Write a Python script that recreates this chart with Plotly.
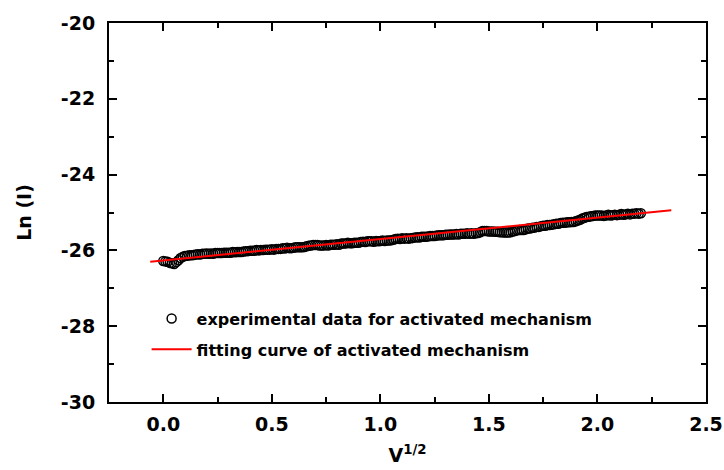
import plotly.graph_objects as go

# square root of bias voltage (x) for the measured points
sqrt_v = [round(0.01 * i, 2) for i in range(221)]

ln_i = [
    -26.28, -26.29, -26.30, -26.33, -26.34, -26.36, -26.31, -26.26, -26.20, -26.17,
    -26.15, -26.14, -26.13, -26.13, -26.12, -26.11, -26.10, -26.11, -26.09, -26.09,
    -26.08, -26.09, -26.08, -26.09, -26.07, -26.07, -26.07, -26.07, -26.06, -26.06,
    -26.06, -26.06, -26.04, -26.05, -26.04, -26.04, -26.04, -26.03, -26.02, -26.02,
    -26.01, -26.01, -26.01, -25.99, -26.00, -25.99, -25.99, -25.98, -25.98, -25.98,
    -25.97, -25.98, -25.96, -25.96, -25.96, -25.94, -25.95, -25.93, -25.94, -25.94,
    -25.93, -25.92, -25.92, -25.92, -25.92, -25.91, -25.89, -25.88, -25.87, -25.86,
    -25.86, -25.86, -25.87, -25.87, -25.87, -25.86, -25.87, -25.85, -25.85, -25.85,
    -25.84, -25.85, -25.82, -25.82, -25.82, -25.80, -25.81, -25.81, -25.80, -25.80,
    -25.80, -25.78, -25.77, -25.78, -25.76, -25.76, -25.76, -25.77, -25.75, -25.76,
    -25.75, -25.74, -25.75, -25.74, -25.74, -25.73, -25.72, -25.70, -25.69, -25.70,
    -25.68, -25.69, -25.68, -25.69, -25.68, -25.67, -25.66, -25.65, -25.66, -25.64,
    -25.64, -25.64, -25.63, -25.62, -25.62, -25.62, -25.61, -25.60, -25.60, -25.60,
    -25.59, -25.59, -25.58, -25.58, -25.58, -25.57, -25.58, -25.56, -25.56, -25.56,
    -25.55, -25.56, -25.55, -25.56, -25.55, -25.54, -25.52, -25.49, -25.49, -25.49,
    -25.50, -25.50, -25.50, -25.51, -25.51, -25.52, -25.52, -25.53, -25.53, -25.53,
    -25.52, -25.50, -25.49, -25.47, -25.46, -25.46, -25.46, -25.44, -25.42, -25.42,
    -25.40, -25.40, -25.38, -25.38, -25.36, -25.35, -25.35, -25.33, -25.33, -25.32,
    -25.31, -25.30, -25.30, -25.28, -25.27, -25.27, -25.26, -25.26, -25.25, -25.25,
    -25.23, -25.21, -25.19, -25.16, -25.14, -25.12, -25.11, -25.10, -25.09, -25.08,
    -25.08, -25.08, -25.08, -25.09, -25.08, -25.06, -25.08, -25.07, -25.06, -25.07,
    -25.06, -25.04, -25.06, -25.05, -25.03, -25.05, -25.03, -25.03, -25.02, -25.03,
    -25.02,
]

# fitted straight line end points
fit_x = [-0.06, 2.34]
fit_y = [-26.30, -24.94]

x_ticks = [0.0, 0.5, 1.0, 1.5, 2.0, 2.5]
x_tick_labels = ["0.0", "0.5", "1.0", "1.5", "2.0", "2.5"]
y_ticks = [-30, -28, -26, -24, -22, -20]
y_tick_labels = ["-30", "-28", "-26", "-24", "-22", "-20"]

FONT = "DejaVu Sans"

fig = go.Figure()
fig.add_trace(go.Scatter(
    x=sqrt_v, y=ln_i, mode="markers",
    name="experimental data for activated mechanism",
    legendgroup="a",
    marker=dict(symbol="circle-open", size=9, color="black", line=dict(width=1.5, color="black")),
))
fig.add_trace(go.Scatter(
    x=fit_x, y=fit_y, mode="lines",
    name="fitting curve of activated mechanism",
    legendgroup="b",
    line=dict(color="red", width=2),
))

axis_common = dict(
    showline=True, linecolor="black", linewidth=2, mirror="ticks",
    ticks="inside", ticklen=8, tickwidth=1.5, tickcolor="black",
    showgrid=False, zeroline=False, automargin=False,
    tickfont=dict(family=FONT, size=19, color="black", weight="bold"),
)

fig.update_xaxes(
    range=[-0.25, 2.5], tickvals=x_ticks, ticktext=x_tick_labels,
    minor=dict(ticks="inside", ticklen=5, tickwidth=1.5, tickcolor="black", dtick=0.25, tick0=0),
    title=dict(text="V<sup>1/2</sup>", font=dict(family=FONT, size=19, color="black", weight="bold"), standoff=15),
    ticklabelstandoff=4,
    **axis_common,
)
fig.update_yaxes(
    range=[-30, -20], tickvals=y_ticks, ticktext=y_tick_labels,
    minor=dict(ticks="inside", ticklen=5, tickwidth=1.5, tickcolor="black", dtick=1, tick0=0),
    title=dict(text="Ln (I)", font=dict(family=FONT, size=19, color="black", weight="bold"), standoff=24),
    ticklabelstandoff=8,
    **axis_common,
)

fig.update_layout(
    width=724, height=470,
    margin=dict(l=109, r=18, t=23, b=68),
    paper_bgcolor="white", plot_bgcolor="white",
    showlegend=True,
    legend=dict(
        x=0.063, y=0.265, xanchor="left", yanchor="top",
        bgcolor="rgba(0,0,0,0)", traceorder="grouped", tracegroupgap=7,
        itemwidth=40,
        font=dict(family=FONT, size=16, color="black", weight="bold"),
    ),
)

fig.write_html("out.html")
